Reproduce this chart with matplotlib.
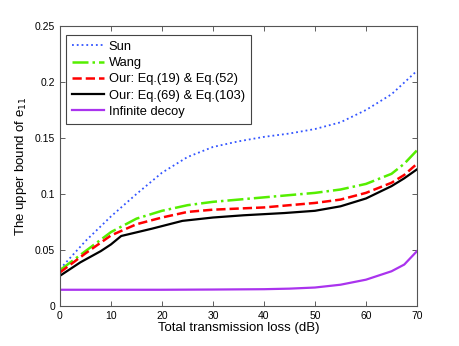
import numpy as np
import matplotlib
matplotlib.use('Agg')
import matplotlib.pyplot as plt

plt.rcParams['font.family'] = ['Liberation Sans', 'DejaVu Sans']

# dane
x_sun = [0, 5, 10, 15, 20, 25, 30, 35, 40, 45, 50, 55, 60, 65, 70]
y_sun = [0.033, 0.058, 0.080, 0.100, 0.119, 0.133, 0.142, 0.147, 0.151, 0.154,
         0.158, 0.164, 0.175, 0.189, 0.210]

x_wang = [0, 5, 10, 15, 20, 25, 30, 35, 40, 45, 50, 55, 60, 65, 67.5, 70]
y_wang = [0.032, 0.049, 0.066, 0.078, 0.085, 0.090, 0.093, 0.095, 0.097, 0.099,
          0.101, 0.104, 0.109, 0.118, 0.127, 0.139]

x_our1 = [0, 5, 10, 15, 20, 25, 30, 35, 40, 45, 50, 55, 60, 65, 67.5, 70]
y_our1 = [0.030, 0.047, 0.063, 0.073, 0.079, 0.084, 0.086, 0.087, 0.088, 0.090,
          0.092, 0.095, 0.101, 0.110, 0.117, 0.127]

x_our2 = [0, 2, 4, 6, 8, 10, 12, 18, 24, 30, 36, 44, 50, 55, 60, 65, 67.5, 70]
y_our2 = [0.027, 0.033, 0.039, 0.044, 0.049, 0.055, 0.0625, 0.069, 0.076, 0.079,
          0.081, 0.083, 0.085, 0.089, 0.096, 0.107, 0.114, 0.122]

x_inf = [0, 10, 20, 30, 40, 45, 50, 55, 60, 65, 67.5, 70]
y_inf = [0.0145, 0.0145, 0.0145, 0.0147, 0.015, 0.0155, 0.0165, 0.019, 0.0235,
         0.031, 0.037, 0.049]

labels = ['Sun', 'Wang', 'Our: Eq.(19) & Eq.(52)', 'Our: Eq.(69) & Eq.(103)',
          'Infinite decoy']

fig = plt.figure(figsize=(4.6, 3.46), dpi=100)
ax = fig.add_axes([0.1304, 0.1156, 0.7761, 0.8093])

ax.plot(x_sun, y_sun, ':', color='#3355ff', lw=1.3, label=labels[0])
ax.plot(x_wang, y_wang, '-.', color='#55ee00', lw=1.8, label=labels[1])
ax.plot(x_our1, y_our1, '--', color='#ff0000', lw=1.8, label=labels[2])
ax.plot(x_our2, y_our2, '-', color='black', lw=1.6, label=labels[3])
ax.plot(x_inf, y_inf, '-', color='#aa33ee', lw=1.6, label=labels[4])

ax.set_xlim(0, 70)
ax.set_ylim(0, 0.25)
ax.set_xticks(range(0, 71, 10))
ax.set_yticks([0, 0.05, 0.1, 0.15, 0.2, 0.25])
ax.set_yticklabels(['0', '0.05', '0.1', '0.15', '0.2', '0.25'])
ax.tick_params(direction='in', top=True, right=True, length=3.5, width=0.6,
               labelsize=7.5, colors='#444444', labelcolor='black')
for s in ax.spines.values():
    s.set_color('#555555')
    s.set_linewidth(0.8)

ax.set_xlabel('Total transmission loss (dB)', fontsize=9.5, labelpad=1)
ax.set_ylabel('The upper bound of e$_{11}$', fontsize=9.5, labelpad=4)

leg = ax.legend(loc='upper left', bbox_to_anchor=(0.016, 0.968), fontsize=9.3,
                handlelength=2.5, handletextpad=0.37, borderaxespad=0,
                labelspacing=0.33, borderpad=0.45, fancybox=False, framealpha=1)
leg.get_frame().set_edgecolor('#444444')
leg.get_frame().set_linewidth(0.8)

fig.savefig('out.png', dpi=100)
